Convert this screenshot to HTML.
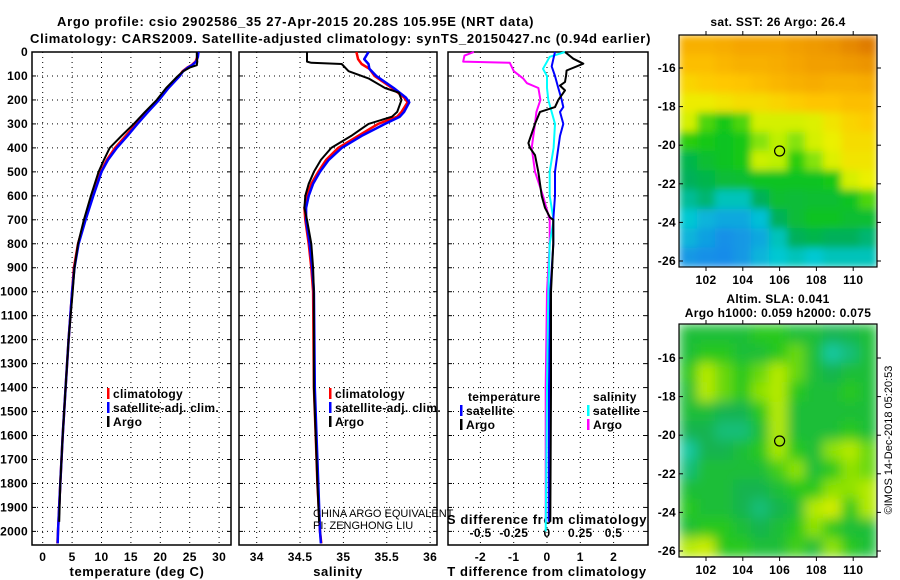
<!DOCTYPE html>
<html><head><meta charset="utf-8"><style>
html,body{margin:0;padding:0;background:#fff;}
svg{display:block;font-family:"Liberation Sans",sans-serif;}
.b{font-weight:bold;font-size:13px;letter-spacing:0.6px;}
.t{font-weight:bold;font-size:12px;letter-spacing:0.3px;}
.n{font-weight:normal;font-size:11px;}
</style></head><body>
<svg id="chart" width="900" height="580" viewBox="0 0 900 580" xmlns="http://www.w3.org/2000/svg">
<g id="root"></g>
</svg>
<script>
// ---- data ----
const depthTicks=[0,100,200,300,400,500,600,700,800,900,1000,1100,1200,1300,1400,1500,1600,1700,1800,1900,2000];
const tempTicks=[0,5,10,15,20,25,30];
const salTicks=[34,34.5,35,35.5,36];
const tdTicks=[-2,-1,0,1,2];
const sdTicks=[-0.5,-0.25,0,0.25,0.5];
const latTicks=[-16,-18,-20,-22,-24,-26];
const lonTicks=[102,104,106,108,110];

const argoDepth=[0,20,40,55,65,80,100,150,200,250,300,350,400,450,500,600,700,800,900,1000,1200,1400,1600,1800,1960];
const argoTemp=[26.2,26.2,26.3,26.2,25.0,23.9,23.0,21.0,19.4,17.4,15.5,13.4,11.4,10.4,9.5,8.2,7.0,6.0,5.4,5.1,4.4,3.9,3.4,3.0,2.8];
const climDepth=[0,20,40,55,65,80,100,150,200,250,300,350,400,450,500,600,700,800,900,1000,1200,1400,1600,1800,2000,2050];
const climTemp=[26.4,26.3,26.0,25.3,24.6,23.8,23.2,21.2,19.6,17.7,15.9,14.1,12.3,10.9,9.9,8.5,7.2,6.0,5.3,5.0,4.4,3.9,3.4,3.0,2.6,2.5];
const satTemp=[26.5,26.4,26.1,25.4,24.7,23.9,23.3,21.4,19.8,17.9,16.1,14.4,12.6,11.1,10.0,8.6,7.3,6.1,5.4,5.0,4.4,3.9,3.4,3.0,2.6,2.55];

const argoSalDepth=[0,40,45,50,80,110,150,170,200,220,250,270,300,350,400,450,500,550,600,650,700,800,900,1000,1400,1600,1800,1960];
const argoSal=[34.58,34.58,34.63,34.98,35.06,35.29,35.48,35.64,35.67,35.65,35.62,35.56,35.29,35.09,34.86,34.74,34.66,34.60,34.56,34.55,34.58,34.63,34.65,34.66,34.66,34.68,34.70,34.72];
const climSalDepth=[0,30,50,70,100,150,190,210,250,270,300,350,400,450,500,550,600,650,700,800,900,1000,1400,1600,1800,2000,2050];
const climSal=[35.15,35.17,35.21,35.30,35.36,35.56,35.70,35.74,35.67,35.62,35.40,35.17,34.94,34.80,34.71,34.63,34.58,34.55,34.56,34.60,34.63,34.65,34.66,34.68,34.70,34.73,34.745];
const satSal=[35.29,35.24,35.29,35.30,35.38,35.58,35.72,35.76,35.70,35.65,35.48,35.21,34.98,34.83,34.73,34.65,34.60,34.57,34.57,34.61,34.64,34.66,34.67,34.69,34.71,34.73,34.74];

const dTDepth=[0,28,49,77,100,125,140,160,200,230,250,300,380,400,430,500,550,600,650,690,700,800,1000,1400,1960];
const dTArgo=[0.54,0.79,1.09,0.59,0.57,0.54,0.39,0.54,0.34,0.24,-0.21,-0.36,-0.56,-0.51,-0.36,-0.26,-0.21,-0.16,-0.06,0.09,0.19,0.19,0.12,0.12,0.1];
const dTSatDepth=[0,30,60,100,150,200,230,250,300,350,400,500,600,700,800,1000,1400,1960];
const dTSat=[0.24,0.19,0.14,0.24,0.34,0.44,0.49,0.39,0.49,0.39,0.34,0.24,0.24,0.19,0.19,0.1,0.06,0.05];
const dSDepth=[0,15,40,45,80,110,130,150,200,250,300,400,500,600,700,800,1000,1400,1960];
const dSArgo=[-0.55,-0.62,-0.63,-0.28,-0.25,-0.18,-0.15,-0.065,-0.05,-0.08,-0.09,-0.115,-0.09,-0.03,0.02,0.02,0.0,-0.01,-0.01];
const dSSatDepth=[0,20,70,100,150,200,300,400,500,600,700,800,1000,1400,2000];
const dSSat=[0.135,0.02,-0.03,0,0,0.01,0.06,0.05,0.02,0.02,0.05,0.02,0.01,0.0,-0.01];

const sstGrid=[
[0.82,0.82,0.83,0.85,0.85,0.85,0.86,0.87,0.88,0.9,0.92],
[0.78,0.78,0.8,0.82,0.82,0.83,0.85,0.86,0.86,0.87,0.88],
[0.72,0.74,0.75,0.76,0.78,0.8,0.82,0.83,0.82,0.82,0.83],
[0.66,0.66,0.68,0.7,0.7,0.72,0.74,0.76,0.76,0.78,0.78],
[0.6,0.45,0.4,0.45,0.6,0.6,0.6,0.62,0.68,0.72,0.74],
[0.42,0.4,0.38,0.4,0.5,0.55,0.5,0.6,0.65,0.7,0.7],
[0.32,0.36,0.38,0.4,0.58,0.55,0.42,0.5,0.62,0.68,0.68],
[0.3,0.32,0.35,0.36,0.38,0.38,0.38,0.38,0.4,0.6,0.65],
[0.25,0.28,0.22,0.22,0.3,0.36,0.35,0.36,0.36,0.38,0.45],
[0.2,0.15,0.12,0.12,0.18,0.3,0.35,0.38,0.38,0.36,0.36],
[0.15,0.1,0.06,0.08,0.12,0.22,0.3,0.32,0.3,0.3,0.28],
[0.08,0.06,0.05,0.08,0.15,0.2,0.22,0.2,0.22,0.22,0.22]];
const slaGrid=[
[.45,.45,.45,.45,.5,.5,.45,.45,.4,.42,.45],
[.45,.5,.5,.45,.45,.5,.55,.45,.3,.35,.45],
[.5,.62,.55,.5,.55,.62,.55,.45,.4,.45,.45],
[.45,.62,.55,.5,.58,.62,.5,.45,.45,.5,.45],
[.45,.45,.4,.4,.5,.62,.45,.45,.45,.45,.45],
[.4,.4,.35,.35,.45,.62,.45,.45,.45,.5,.45],
[.3,.4,.4,.45,.5,.6,.5,.45,.58,.62,.55],
[.35,.45,.45,.45,.45,.52,.58,.45,.5,.58,.55],
[.45,.45,.45,.4,.4,.45,.5,.5,.58,.58,.62],
[.5,.45,.45,.4,.35,.4,.45,.62,.68,.5,.62],
[.45,.5,.5,.45,.4,.45,.5,.58,.5,.45,.45],
[.62,.66,.5,.5,.45,.45,.52,.45,.58,.5,.45]];
const argoLon=106, argoLat=-20.3;

// ---- helpers ----
const NS="http://www.w3.org/2000/svg";
const root=document.getElementById('root');
function mk(tag,attrs,parent){const e=document.createElementNS(NS,tag);for(const k in attrs)e.setAttribute(k,attrs[k]);(parent||root).appendChild(e);return e;}
function txt(x,y,s,anchor,cls,extra){const t=mk('text',Object.assign({x:x,y:y,'text-anchor':anchor||'start','class':cls||'b'},extra||{}));t.textContent=s;return t;}

const top0=52, bot=545, dpx=0.2397;
const yD=d=>top0+d*dpx;
const panels=[{x0:32,x1:231},{x0:239,x1:437},{x0:448,x1:648}];
const xT=t=>42.7+t*5.88;
const xS=s=>256.7+(s-34)*86.7;
const xdT=v=>547+v*33.3;
const xdS=v=>547+v*133;

let t=txt(57,26,'Argo profile: csio 2902586_35 27-Apr-2015 20.28S 105.95E (NRT data)','start','b',{'font-size':'14',textLength:'477',lengthAdjust:'spacing'});


t=txt(30,43,'Climatology: CARS2009. Satellite-adjusted climatology: synTS_20150427.nc (0.94d earlier)','start','b',{'font-size':'14',textLength:'621',lengthAdjust:'spacing'});



depthTicks.forEach(d=>{const e=txt(28,yD(d)+4,String(d),'end','t');

});

function panelFrame(p,xs,xfn,name){
  const g=mk('g',{});
  
  
  depthTicks.forEach(d=>{if(d>0)mk('line',{x1:p.x0,x2:p.x1,y1:yD(d),y2:yD(d),stroke:'#000','stroke-dasharray':'1,4','stroke-width':1},g);
    mk('line',{x1:p.x0,x2:p.x0+4,y1:yD(d),y2:yD(d),stroke:'#000'},g);mk('line',{x1:p.x1-4,x2:p.x1,y1:yD(d),y2:yD(d),stroke:'#000'},g);});
  xs.forEach(v=>{const x=xfn(v);mk('line',{x1:x,x2:x,y1:top0,y2:bot,stroke:'#000','stroke-dasharray':'1,4'},g);});
  mk('rect',{x:p.x0,y:top0,width:p.x1-p.x0,height:bot-top0,fill:'none',stroke:'#000','stroke-width':1.5},g);
  return g;
}
panelFrame(panels[0],tempTicks,xT,'temperature-panel');
panelFrame(panels[1],salTicks,xS,'salinity-panel');
panelFrame(panels[2],tdTicks,xdT,'difference-panel');
tempTicks.forEach(v=>{const e=txt(xT(v),561,String(v),'middle','t');

});
salTicks.forEach(v=>{const e=txt(xS(v),561,String(v),'middle','t');

});
tdTicks.forEach(v=>{const e=txt(xdT(v),561,String(v),'middle','t');

});
sdTicks.forEach(v=>{const e=txt(xdS(v),537,String(v),'middle','t');

});
t=txt(137,576,'temperature (deg C)','middle');
t=txt(338,576,'salinity','middle');
t=txt(547,576,'T difference from climatology','middle');
t=txt(547,524,'S difference from climatology','middle');

function line(depths,vals,xf,color,w,name){
  const pts=depths.map((d,i)=>xf(vals[i]).toFixed(1)+','+yD(d).toFixed(1)).join(' ');
  const e=mk('polyline',{points:pts,fill:'none',stroke:color,'stroke-width':w,'stroke-linejoin':'round'});
  
  
}
line(climDepth,climTemp,xT,'#f00',2.5,'temperature-climatology-line');
line(climDepth,satTemp,xT,'#00f',2.5,'temperature-satellite-line');
line(argoDepth,argoTemp,xT,'#000',2,'temperature-argo-line');
line(climSalDepth,climSal,xS,'#f00',2.5,'salinity-climatology-line');
line(climSalDepth,satSal,xS,'#00f',2.5,'salinity-satellite-line');
line(argoSalDepth,argoSal,xS,'#000',2,'salinity-argo-line');
line(dSDepth,dSArgo,xdS,'#f0f',2,'s-diff-argo-line');
line(dSSatDepth,dSSat,xdS,'#0ff',2,'s-diff-satellite-line');
line(dTSatDepth,dTSat,xdT,'#00f',2,'t-diff-satellite-line');
line(dTDepth,dTArgo,xdT,'#000',2,'t-diff-argo-line');

function leg(x,y,color,label,name){
  const g=mk('g',{});
  
  
  mk('rect',{x:x,y:y-10,width:2.5,height:11,fill:color},g);
  const e=mk('text',{x:x+6,y:y,'class':'t'},g);e.textContent=label;
}
leg(107,398,'#f00','climatology','legend-entry-climatology');
leg(107,412,'#00f','satellite-adj. clim.','legend-entry-satellite-adj');
leg(107,426,'#000','Argo','legend-entry-argo');
leg(329,398,'#f00','climatology','legend-entry-climatology-sal');
leg(329,412,'#00f','satellite-adj. clim.','legend-entry-satellite-adj-sal');
leg(329,426,'#000','Argo','legend-entry-argo-sal');
t=txt(468,401,'temperature','start','t');
leg(460,415,'#00f','satellite','legend-entry-t-satellite');
leg(460,429,'#000','Argo','legend-entry-t-argo');
t=txt(593,401,'salinity','start','t');
leg(587,415,'#0ff','satellite','legend-entry-s-satellite');
leg(587,429,'#f0f','Argo','legend-entry-s-argo');
t=txt(313,517,'CHINA ARGO EQUIVALENT','start','n');
t=txt(313,529,'PI: ZENGHONG LIU','start','n');

function lerp(a,b,f){return a.map((v,i)=>Math.round(v+(b[i]-v)*f));}
function cmap(stops,v){for(let i=1;i<stops.length;i++){if(v<=stops[i][0]){const f=(v-stops[i-1][0])/(stops[i][0]-stops[i-1][0]);const c=lerp(stops[i-1][1],stops[i][1],f);return 'rgb('+c.join(',')+')';}}const c=stops[stops.length-1][1];return 'rgb('+c.join(',')+')';}
const sstStops=[[0,[30,120,240]],[0.2,[0,200,210]],[0.3,[0,176,90]],[0.4,[20,200,20]],[0.55,[190,240,0]],[0.65,[235,240,0]],[0.75,[255,200,0]],[0.85,[245,165,0]],[1,[200,80,0]]];
const slaStops=[[0,[0,150,200]],[0.3,[20,200,160]],[0.4,[20,180,80]],[0.5,[40,200,30]],[0.6,[170,232,0]],[0.7,[225,240,0]],[1,[240,240,0]]];
function drawMap(y0,y1,latAt16,grid,stops,name,blur){
  const mx0=679,mx1=877;
  const yL=lat=>latAt16+(-16-lat)*19.3;
  const xL=lon=>706+(lon-102)*18.4;
  const g=mk('g',{});
  
  
  const cp=mk('clipPath',{id:name+'-clip'},g);mk('rect',{x:mx0,y:y0,width:mx1-mx0,height:y1-y0},cp);
  const outer=mk('g',{'clip-path':'url(#'+name+'-clip)'},g);
  const cg=mk('g',{filter:'url(#'+blur+')'},outer);
  const rows=grid.length,cols=grid[0].length,cw=(mx1-mx0)/cols,ch=(y1-y0)/rows;
  grid.forEach((row,r)=>row.forEach((v,c)=>{const e=mk('rect',{x:mx0+c*cw,y:y0+r*ch,width:cw+0.6,height:ch+0.6,fill:cmap(stops,v)},cg);
    
    }));
  mk('rect',{x:mx0,y:y0,width:mx1-mx0,height:y1-y0,fill:'none',stroke:'#000','stroke-width':1.2},g);
  latTicks.forEach(l=>{const y=yL(l);mk('line',{x1:mx0,x2:mx0+4,y1:y,y2:y,stroke:'#000'},g);mk('line',{x1:mx1,x2:mx1+4,y1:y,y2:y,stroke:'#000'},g);
    const e=txt(mx0-3,y+4,String(l),'end','t');});
  lonTicks.forEach(l=>{const x=xL(l);mk('line',{x1:x,x2:x,y1:y1,y2:y1+4,stroke:'#000'},g);mk('line',{x1:x,x2:x,y1:y0-4,y2:y0,stroke:'#000'},g);
    const e=txt(x,y1+17,String(l),'middle','t');});
  const c=mk('circle',{cx:xL(argoLon),cy:yL(argoLat),r:5,fill:'none',stroke:'#000','stroke-width':1.2},g);
  
  
}
const defs=mk('defs',{});
const f=mk('filter',{id:'bl',x:'-5%',y:'-5%',width:'110%',height:'110%'},defs);mk('feGaussianBlur',{stdDeviation:'6',edgeMode:'duplicate'},f);
const f2=mk('filter',{id:'bl2',x:'-5%',y:'-5%',width:'110%',height:'110%'},defs);mk('feGaussianBlur',{stdDeviation:'4',edgeMode:'duplicate'},f2);
drawMap(35,267,68,sstGrid,sstStops,'sst-map','bl2');
drawMap(324,557,358,slaGrid,slaStops,'sla-map','bl');
t=txt(778,26,'sat. SST: 26 Argo: 26.4','middle','t');
t=txt(778,303,'Altim. SLA: 0.041','middle','t');
t=txt(778,317,'Argo h1000: 0.059 h2000: 0.075','middle','t');
t=txt(0,0,'©IMOS 14-Dec-2018 05:20:53','middle','n',{'font-size':'12',transform:'translate(892,440) rotate(-90)'});

</script>
</body></html>
